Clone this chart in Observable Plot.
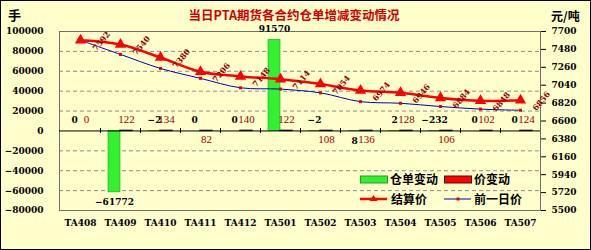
<!DOCTYPE html>
<html><head><meta charset="utf-8">
<script src="https://cdn.jsdelivr.net/npm/d3@7"></script>
<script src="https://cdn.jsdelivr.net/npm/@observablehq/plot@0.6"></script>
<style>
html,body{margin:0;padding:0;background:#fff;}
#wrap{position:relative;width:591px;height:250px;overflow:hidden;}
#wrap svg{display:block;}
.ov{position:absolute;font-family:"Noto Sans CJK SC",sans-serif;font-weight:bold;white-space:nowrap;line-height:12px;color:#000;}
#border{position:absolute;left:0;top:0;width:591px;height:250px;box-sizing:border-box;border:1px solid #000;pointer-events:none;}
</style></head><body>
<div id="wrap"></div>
<script>
const categories = ["TA408","TA409","TA410","TA411","TA412","TA501","TA502","TA503","TA504","TA505","TA506","TA507"];
const stockChange = [0, -61772, -2, 0, 0, 91570, -2, 8, 2, -232, 0, 0];
const priceChange = [0, 122, 134, 82, 140, 122, 108, 136, 128, 106, 102, 124];
const settlePrice = [7592, 7540, 7380, 7206, 7148, 7114, 7054, 6974, 6946, 6884, 6848, 6856];
const prevPrice = [7592, 7418, 7246, 7124, 7008, 6992, 6946, 6838, 6818, 6778, 6746, 6732];
const leftTicks = [100000, 80000, 60000, 40000, 20000, 0, -20000, -40000, -60000, -80000];
const rightTicks = [7700, 7480, 7260, 7040, 6820, 6600, 6380, 6160, 5940, 5720, 5500];

const W = 591, H = 250, ML = 59, MR = 51, MT = 31, MB = 40;
const L0 = -80000, L1 = 100000, P0 = 5500, P1 = 7700;
const toLeft = p => (p - P0) / (P1 - P0) * (L1 - L0) + L0;
const fromLeft = v => Math.round((v - L0) / (L1 - L0) * (P1 - P0) + P0);
const fmt = d3.format("d");
const bw = (W - ML - MR) / categories.length;

const rows = categories.map((c, i) => ({cat: c, stock: stockChange[i], chg: priceChange[i], settle: settlePrice[i], prev: prevPrice[i]}));
// label placement (layout only)
const stockBelow = new Set(["TA409", "TA503"]);
const priceBelow = new Set(["TA411", "TA502", "TA503", "TA505"]);

const priceLabelStyle = {fill: "#A00000", fontFamily: "'Liberation Serif', serif", fontSize: 11, fontWeight: "normal"};

const chart = Plot.plot({
  width: W, height: H, marginLeft: ML, marginRight: MR, marginTop: MT, marginBottom: MB,
  style: {background: "#FFFFCC", fontFamily: "'DejaVu Serif', serif", fontSize: "9px", fontWeight: "bold", color: "#000", overflow: "visible"},
  x: {type: "band", domain: categories, padding: 0, label: null},
  y: {domain: [L0, L1], label: null},
  marks: [
    Plot.gridY(leftTicks.filter(t => t !== 0 && t !== L0 && t !== L1), {stroke: "#8c8c8c", strokeOpacity: 1, strokeDasharray: "4,3"}),
    Plot.frame({stroke: "#707070"}),
    Plot.barY(rows, {x: "cat", y: "stock", fill: "#33F033", stroke: "#1E9E1E", strokeWidth: 0.6, insetLeft: 8, insetRight: 20}),
    Plot.barY(rows, {x: "cat", y: "chg", fill: "#FF0000", stroke: "#202020", strokeWidth: 1.4, insetLeft: 20, insetRight: 8}),
    Plot.ruleY([0], {stroke: "#000"}),
    Plot.ruleX(categories.slice(1), {x: d => d, y1: -2500, y2: 2500, dx: -bw / 2, stroke: "#000"}),
    Plot.axisY(leftTicks, {anchor: "left", tickSize: 0, tickPadding: 16, tickFormat: d => fmt(d), label: null}),
    Plot.axisY(rightTicks.map(toLeft), {anchor: "right", tickSize: 5, tickPadding: 6, tickFormat: d => String(fromLeft(d)), label: null}),
    Plot.axisX({anchor: "bottom", tickSize: 0, tickPadding: 9, label: null}),
    Plot.line(rows, {x: "cat", y: d => toLeft(d.prev), stroke: "#0000C0", strokeWidth: 1, curve: "catmull-rom"}),
    Plot.dot(rows, {x: "cat", y: d => toLeft(d.prev), symbol: "square", r: 1.7, fill: "#E00000", stroke: null}),
    Plot.line(rows, {x: "cat", y: d => toLeft(d.settle), stroke: "#FF0000", strokeWidth: 2.5, curve: "catmull-rom"}),
    Plot.dot(rows, {x: "cat", y: d => toLeft(d.settle), symbol: "triangle", r: 4.2, fill: "#FF0000", stroke: null}),
    Plot.text(rows, {x: "cat", y: d => toLeft(d.settle), text: d => String(d.settle), rotate: -50, dx: 21, dy: 1, fill: "#900000", fontSize: 8, fontWeight: "bold"}),
    Plot.text(rows.filter(d => !stockBelow.has(d.cat)), {x: "cat", y: "stock", text: d => fmt(d.stock), dx: -6, dy: -11, fill: "#000"}),
    Plot.text(rows.filter(d => stockBelow.has(d.cat)), {x: "cat", y: "stock", text: d => fmt(d.stock), dx: -6, dy: 10, fill: "#000"}),
    Plot.text(rows.filter(d => !priceBelow.has(d.cat)), {x: "cat", y: "chg", text: d => String(d.chg), dx: 6, dy: -11, ...priceLabelStyle}),
    Plot.text(rows.filter(d => priceBelow.has(d.cat)), {x: "cat", y: "chg", text: d => String(d.chg), dx: 6, dy: 9, ...priceLabelStyle})
  ]
});
const wrap = document.getElementById("wrap");
wrap.appendChild(chart);

function ov(text, css) {
  const d = document.createElement("div");
  d.className = "ov";
  d.textContent = text;
  Object.assign(d.style, css);
  wrap.appendChild(d);
}
ov("当日PTA期货各合约仓单增减变动情况", {left: "0px", width: "588px", textAlign: "center", top: "9px", fontSize: "12.5px", color: "#D00000"});
ov("手", {left: "8px", top: "9px", fontSize: "13px"});
ov("元/吨", {left: "551px", top: "10px", fontSize: "12px"});
ov("仓单变动", {left: "390px", top: "173px", fontSize: "12px"});
ov("价变动", {left: "474px", top: "173px", fontSize: "12px"});
ov("结算价", {left: "391px", top: "193px", fontSize: "12px"});
ov("前一日价", {left: "474px", top: "193px", fontSize: "12px"});

const ns = "http://www.w3.org/2000/svg";
const lg = document.createElementNS(ns, "svg");
lg.setAttribute("width", "120"); lg.setAttribute("height", "40");
Object.assign(lg.style, {position: "absolute", left: "355px", top: "168px"});
lg.innerHTML = `
<rect x="5.5" y="8" width="27" height="7" fill="#33F033" stroke="#1E9E1E" stroke-width="1"/>
<rect x="89.5" y="8" width="27" height="7" fill="#FF0000" stroke="#600000" stroke-width="1"/>
<line x1="5" x2="32" y1="31" y2="31" stroke="#FF0000" stroke-width="2.5"/>
<path d="M18.5,27 L22.5,33 L14.5,33 Z" fill="#FF0000"/>
<line x1="89" x2="116" y1="31" y2="31" stroke="#0000C0" stroke-width="1"/>
<rect x="101.5" y="29.5" width="3" height="3" fill="#E00000"/>`;
wrap.appendChild(lg);

const b = document.createElement("div");
b.id = "border";
wrap.appendChild(b);
</script>
</body></html>
